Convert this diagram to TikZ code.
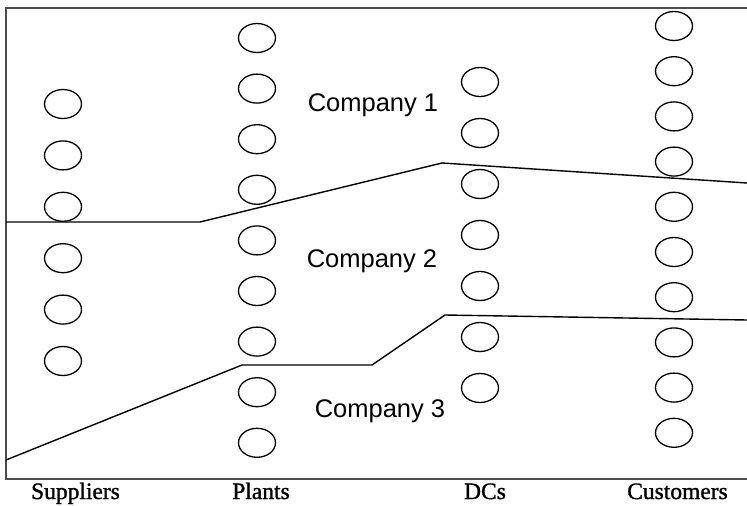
\documentclass[tikz,border=0pt]{standalone}
\usepackage{fontspec}
\setmainfont{Liberation Serif}
\newfontfamily\labelsans{Liberation Sans}
\newfontfamily\stageserif[FakeBold=1.2]{Liberation Serif}
\usetikzlibrary{shapes.geometric}
\begin{document}
\begin{tikzpicture}[x=1pt,y=-1pt,
  site/.style={ellipse, draw, line width=1.3pt, minimum width=37pt, minimum height=29pt, inner sep=0pt},
  boundary/.style={line width=1.4pt},
  frame/.style={line width=1.6pt, draw=black!70},
  company/.style={font=\labelsans\fontsize{25.5}{30}\selectfont, anchor=base},
  stage/.style={font=\stageserif\fontsize{23.5}{28}\selectfont, anchor=base}]
\useasboundingbox (0,0) rectangle (747,506);
% open frame (no right edge)
\draw[frame] (747,8) -- (6,8) -- (6,479) -- (747,479);

% facilities of each echelon
\foreach \i in {1,...,6}  \node[site] (s\i) at (63, {104+51.4*(\i-1)}) {};
\foreach \i in {1,...,9}  \node[site] (p\i) at (257,{38+50.6*(\i-1)}) {};
\foreach \i in {1,...,7}  \node[site] (d\i) at (480,{82+51*(\i-1)}) {};
\foreach \i in {1,...,10} \node[site] (c\i) at (674,{26+45.2*(\i-1)}) {};

% company boundaries
\draw[boundary] (6,222) -- (200,222) -- (442,163) -- (747,183);
\draw[boundary] (6,460) -- (242,365) -- (372,365) -- (445,315) -- (747,320);

% company names
\node[company] (k1) at (373,111) {Company 1};
\node[company] (k2) at (372,267) {Company 2};
\node[company] (k3) at (380,417) {Company 3};

% echelon names
\node[stage] (l1) at (75.5,499) {Suppliers};
\node[stage] (l2) at (261,499) {Plants};
\node[stage] (l3) at (485,499) {DCs};
\node[stage] (l4) at (677.5,499) {Customers};
\end{tikzpicture}
\end{document}
